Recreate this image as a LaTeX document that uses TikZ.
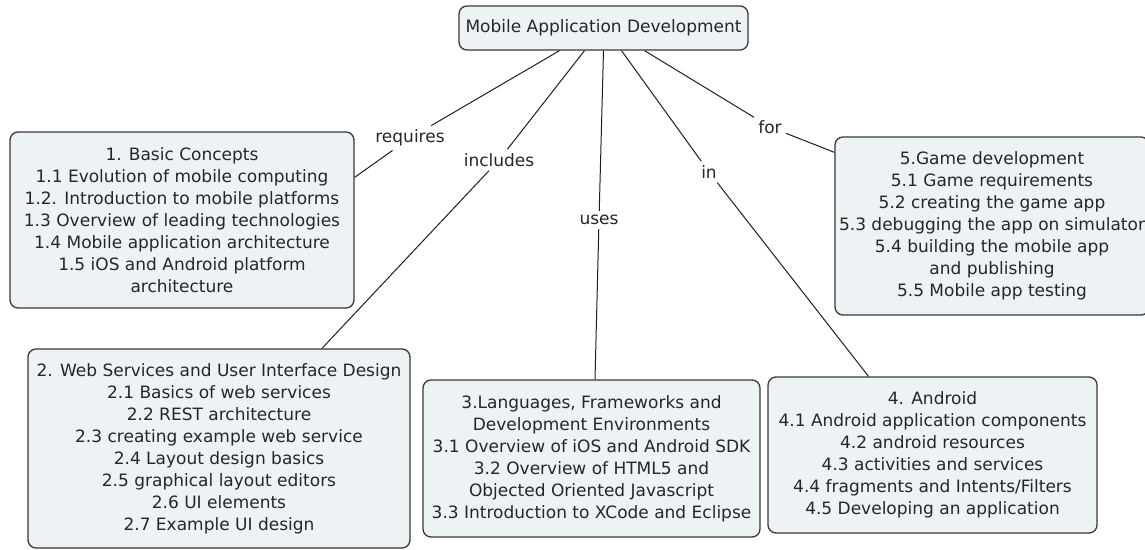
\documentclass[tikz,border=0pt]{standalone}
\usepackage{fontspec}
\setmainfont{DejaVu Sans}
\usetikzlibrary{calc}
\definecolor{boxfill}{RGB}{237,243,245}
\definecolor{boxline}{RGB}{55,55,55}
\definecolor{linkline}{RGB}{30,30,30}
\tikzset{
  concept/.style={draw=boxline, fill=boxfill, line width=1.3pt, rounded corners=8pt,
    align=center, inner sep=0pt, font=\fontsize{17}{22}\selectfont, text=black!85},
  linklabel/.style={inner sep=4pt, font=\fontsize{17}{22}\selectfont, text=black!85},
  link/.style={draw=linkline, line width=1pt}
}
\begin{document}
\begin{tikzpicture}[x=1pt,y=-1pt]
\path[use as bounding box] (0,0) rectangle (1145,549);
\clip (0,0) rectangle (1145,549);
\node[concept, minimum width=289pt, minimum height=44pt] (root) at (603.5,28) {Mobile Application Development};
\node[concept, minimum width=344pt, minimum height=176pt] (b1) at (182,220) {1. Basic Concepts\\1.1 Evolution of mobile computing\\1.2. Introduction to mobile platforms\\1.3 Overview of leading technologies\\1.4 Mobile application architecture\\1.5 iOS and Android platform\\architecture};
\node[concept, minimum width=382pt, minimum height=199pt] (b2) at (219,448.5) {2. Web Services and User Interface Design\\2.1 Basics of web services\\2.2 REST architecture\\2.3 creating example web service\\2.4 Layout design basics\\2.5 graphical layout editors\\2.6 UI elements\\2.7 Example UI design};
\node[concept, minimum width=337pt, minimum height=157pt] (b3) at (591.5,458.5) {3.Languages, Frameworks and\\Development Environments\\3.1 Overview of iOS and Android SDK\\3.2 Overview of HTML5 and\\Objected Oriented Javascript\\3.3 Introduction to XCode and Eclipse};
\node[concept, minimum width=329pt, minimum height=156pt] (b4) at (932.5,455) {4. Android\\4.1 Android application components\\4.2 android resources\\4.3 activities and services\\4.4 fragments and Intents/Filters\\4.5 Developing an application};
\node[concept, minimum width=314pt, minimum height=178pt] (b5) at (992,226) {5.Game development\\5.1 Game requirements\\5.2 creating the game app\\5.3 debugging the app on simulator\\5.4 building the mobile app\\and publishing\\5.5 Mobile app testing};
\node[linklabel] (lreq) at (410,138) {requires};
\node[linklabel] (linc) at (499,160) {includes};
\node[linklabel] (luse) at (599,220) {uses};
\node[linklabel] (lin) at (709,172) {in};
\node[linklabel] (lfor) at (770,127) {for};
\draw[link] ([xshift=-44pt]root.south) -- (lreq);
\draw[link] (lreq) -- ([yshift=-46pt]b1.north east);
\draw[link] ([xshift=-19pt]root.south) -- (linc);
\draw[link] (linc) -- ([xshift=103pt]b2.north);
\draw[link] (root.south) -- (luse);
\draw[link] (luse) -- ([xshift=3.5pt]b3.north);
\draw[link] ([xshift=18pt]root.south) -- (lin);
\draw[link] (lin) -- ([xshift=-64pt]b4.north);
\draw[link] ([xshift=41pt]root.south) -- (lfor);
\draw[link] (lfor) -- ([yshift=-16pt]b5.north west);
\end{tikzpicture}
\end{document}
